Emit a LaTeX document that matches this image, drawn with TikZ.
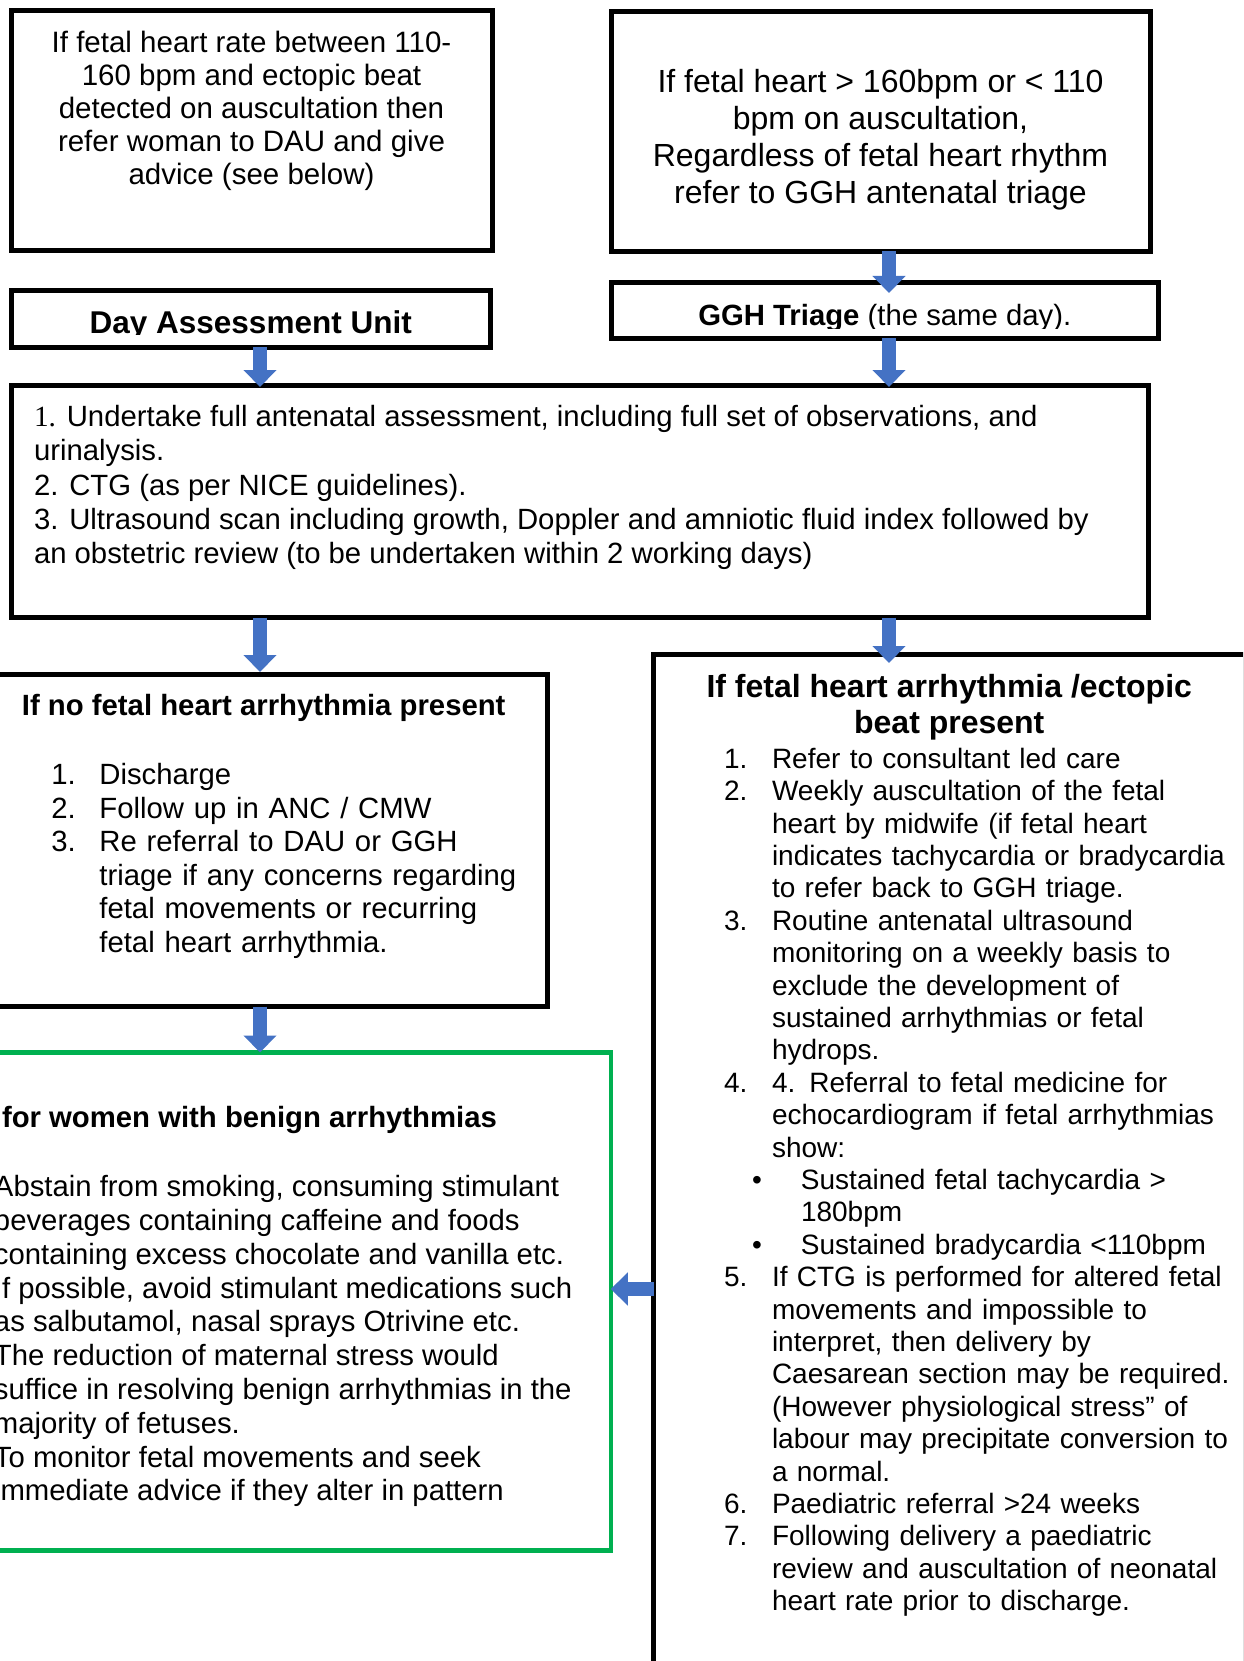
\documentclass[tikz,border=0pt]{standalone}
\usepackage{fontspec}
\setmainfont{Liberation Sans}
\newfontfamily\numserif{Liberation Serif}
\usetikzlibrary{arrows.meta,positioning}
\definecolor{flowblue}{RGB}{68,114,196}
\definecolor{advicegreen}{RGB}{0,176,80}
\newcommand{\numitem}[2]{\par\noindent\hangindent=48pt\hangafter=1\makebox[48pt][l]{\strut#1}#2}
\newcommand{\dotitem}[1]{\par\noindent\hangindent=77pt\hangafter=1\hspace*{28pt}\makebox[49pt][l]{\strut\textbullet}#1}

\begin{document}
\begin{tikzpicture}[x=1pt,y=-1pt,
  box/.style={draw=black,line width=5pt,inner sep=0pt,outer sep=0pt},
  greenbox/.style={draw=advicegreen,line width=4.5pt,inner sep=0pt,outer sep=0pt},
  txt/.style={inner sep=0pt,outer sep=0pt},
  flow/.style={draw=flowblue,line width=14pt,-{Triangle[width=32pt,length=17pt]}}]
\useasboundingbox (0,0) rectangle (1243,1661);
\clip (0,0) rectangle (1243,1661);
\coordinate (lcol) at (260,0);
\coordinate (rcol) at (889,0);
\coordinate (arow) at (0,1289);

\node[box,minimum width=481pt,minimum height=240pt] (cond1) at (251.5,131) {};
\node[box,minimum width=538.5pt,minimum height=239.5pt] (cond2) at (880.75,131.75) {};
\node[box,minimum width=479.5pt,minimum height=56.5pt] (dau) at (250.75,318.75) {};
\node[box,minimum width=546.5pt,minimum height=55pt] (ggh) at (884.75,310.5) {};
\node[box,minimum width=1136.5pt,minimum height=232.5pt] (plan) at (579.75,501.25) {};
\node[box,minimum width=567.5pt,minimum height=332.5pt] (nofh) at (263.75,840.25) {};
\node[greenbox,minimum width=631pt,minimum height=498pt] (advice) at (295.25,1301.5) {};
\node[box,minimum width=591.5pt,minimum height=1026pt] (fhpresent) at (949.25,1167) {};

\node[txt,anchor=north,align=center,font=\fontsize{29.5pt}{33pt}\selectfont] (cond1text) at (251.5,29.7)
  {\strut If fetal heart rate between 110-\\160 bpm and ectopic beat\\detected on auscultation then\\refer woman to DAU and give\\advice (see below)};
\node[txt,anchor=north,align=center,font=\fontsize{32pt}{36.8pt}\selectfont] (cond2text) at (880.5,67)
  {\strut If fetal heart > 160bpm or < 110\\bpm on auscultation,\\Regardless of fetal heart rhythm\\refer to GGH antenatal triage};
\begin{scope}
\clip (11,290) rectangle (491,334);
\node[txt,anchor=base,font=\bfseries\fontsize{31.5pt}{36pt}\selectfont] (dautext) at (250.75,333.5) {Day Assessment Unit};
\end{scope}
\begin{scope}
\clip (611,283) rectangle (1158,328.5);
\node[txt,anchor=base,font=\fontsize{29.3pt}{33.6pt}\selectfont] (gghtext) at (884.75,325) {\textbf{GGH Triage} (the same day).};
\end{scope}
\node[txt,anchor=north west,align=left,font=\fontsize{29.3pt}{34.2pt}\selectfont] (plantext) at (34,402.8)
  {\strut{\numserif 1.} Undertake full antenatal assessment, including full set of observations, and\\urinalysis.\\2. CTG (as per NICE guidelines).\\3. Ultrasound scan including growth, Doppler and amniotic fluid index followed by\\an obstetric review (to be undertaken within 2 working days)};

\node[txt,anchor=base,font=\bfseries\fontsize{29.3pt}{33.6pt}\selectfont] (nofhtitle) at (263.75,715) {If no fetal heart arrhythmia present};
\node[txt,anchor=north west,text width=480pt,align=left,font=\fontsize{29.3pt}{33.6pt}\selectfont] (nofhlist) at (51.4,750.8)
  {\numitem{1.}{Discharge}
   \numitem{2.}{Follow up in ANC / CMW}
   \numitem{3.}{Re referral to DAU or GGH\newline triage if any concerns regarding\newline fetal movements or recurring\newline fetal heart arrhythmia.}\par};

\node[txt,anchor=base west,font=\bfseries\fontsize{29.3pt}{33.6pt}\selectfont] (advicetitle) at (2,1127) {for women with benign arrhythmias};
\node[txt,anchor=north west,align=left,font=\fontsize{29.3pt}{33.8pt}\selectfont] (advicetext) at (-6,1173.1)
  {\strut Abstain from smoking, consuming stimulant\\beverages containing caffeine and foods\\containing excess chocolate and vanilla etc.\\If possible, avoid stimulant medications such\\as salbutamol, nasal sprays Otrivine etc.\\The reduction of maternal stress would\\suffice in resolving benign arrhythmias in the\\majority of fetuses.\\To monitor fetal movements and seek\\immediate advice if they alter in pattern};

\node[txt,anchor=north,align=center,font=\bfseries\fontsize{32pt}{36.6pt}\selectfont] (fhtitle) at (949.25,671.4)
  {\strut If fetal heart arrhythmia /ectopic\\beat present};
\node[txt,anchor=north west,text width=540pt,align=left,font=\fontsize{28pt}{32.4pt}\selectfont] (fhlist) at (724,735.9)
  {\numitem{1.}{Refer to consultant led care}
   \numitem{2.}{Weekly auscultation of the fetal\newline heart by midwife (if fetal heart\newline indicates tachycardia or bradycardia\newline to refer back to GGH triage.}
   \numitem{3.}{Routine antenatal ultrasound\newline monitoring on a weekly basis to\newline exclude the development of\newline sustained arrhythmias or fetal\newline hydrops.}
   \numitem{4.}{4. Referral to fetal medicine for\newline echocardiogram if fetal arrhythmias\newline show:}
   \dotitem{Sustained fetal tachycardia >\newline 180bpm}
   \dotitem{Sustained bradycardia <110bpm}
   \numitem{5.}{If CTG is performed for altered fetal\newline movements and impossible to\newline interpret, then delivery by\newline Caesarean section may be required.\newline (However physiological stress” of\newline labour may precipitate conversion to\newline a normal.}
   \numitem{6.}{Paediatric referral >24 weeks}
   \numitem{7.}{Following delivery a paediatric\newline review and auscultation of neonatal\newline heart rate prior to discharge.}\par};

\draw[flow,shorten >=-10pt] (rcol |- cond2.south) -- (rcol |- ggh.north);
\draw[flow,shorten >=-2pt] (lcol |- dau.south) -- (lcol |- plan.north);
\draw[flow,shorten >=-2pt] (rcol |- ggh.south) -- (rcol |- plan.north);
\draw[flow,shorten >=2pt] (lcol |- plan.south) -- (lcol |- nofh.north);
\draw[flow,shorten >=-9pt] (rcol |- plan.south) -- (rcol |- fhpresent.north);
\draw[flow] (lcol |- nofh.south) -- (lcol |- advice.north);
\draw[flow] (fhpresent.west |- arow) -- (advice.east |- arow);
\end{tikzpicture}
\end{document}
